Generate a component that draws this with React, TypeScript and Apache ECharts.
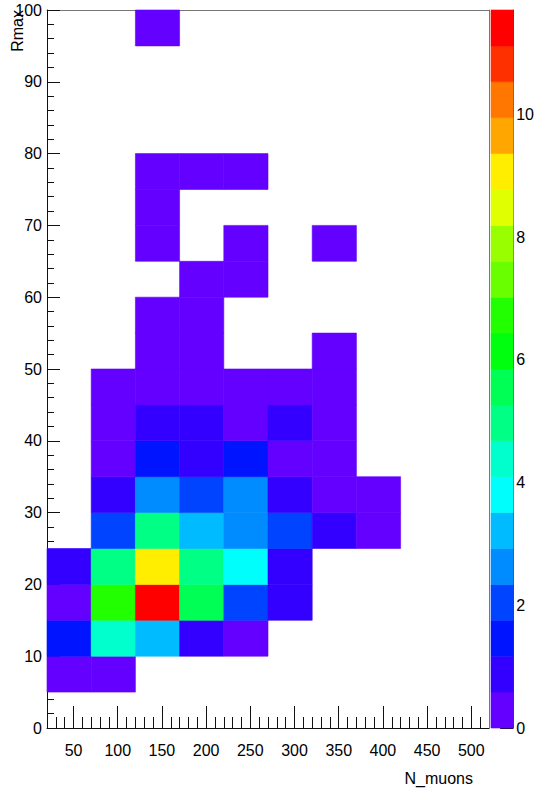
import { useEffect, useRef } from "react";
import * as echarts from "echarts";

// Binning of the 2D histogram (N_muons on x, Rmax on y)
const xMin = 20;
const xMax = 520;
const xBinWidth = 50;
const yMin = 0;
const yMax = 100;
const yBinWidth = 5;

// Bin contents, one array per Rmax row (bottom row first), one entry per N_muons bin
const counts: number[][] = [
  [0, 0, 0, 0, 0, 0, 0, 0, 0, 0], // 0-5
  [0.3, 0.3, 0, 0, 0, 0, 0, 0, 0, 0], // 5-10
  [1.5, 4.4, 3.2, 0.9, 0.3, 0, 0, 0, 0, 0], // 10-15
  [0.3, 6.7, 11.14, 5.5, 2.0, 0.9, 0, 0, 0, 0], // 15-20
  [0.9, 5.0, 9.1, 5.0, 3.8, 0.9, 0, 0, 0, 0], // 20-25
  [0, 2.0, 5.0, 3.2, 2.6, 2.0, 0.9, 0.3, 0, 0], // 25-30
  [0, 0.9, 2.6, 2.0, 2.6, 0.9, 0.3, 0.3, 0, 0], // 30-35
  [0, 0.3, 1.5, 0.9, 1.5, 0.3, 0.3, 0, 0, 0], // 35-40
  [0, 0.3, 0.9, 0.9, 0.3, 0.9, 0.3, 0, 0, 0], // 40-45
  [0, 0.3, 0.3, 0.3, 0.3, 0.3, 0.3, 0, 0, 0], // 45-50
  [0, 0, 0.3, 0.3, 0, 0, 0.3, 0, 0, 0], // 50-55
  [0, 0, 0.3, 0.3, 0, 0, 0, 0, 0, 0], // 55-60
  [0, 0, 0, 0.3, 0.3, 0, 0, 0, 0, 0], // 60-65
  [0, 0, 0.3, 0, 0.3, 0, 0.3, 0, 0, 0], // 65-70
  [0, 0, 0.3, 0, 0, 0, 0, 0, 0, 0], // 70-75
  [0, 0, 0.3, 0.3, 0.3, 0, 0, 0, 0, 0], // 75-80
  [0, 0, 0, 0, 0, 0, 0, 0, 0, 0], // 80-85
  [0, 0, 0, 0, 0, 0, 0, 0, 0, 0], // 85-90
  [0, 0, 0, 0, 0, 0, 0, 0, 0, 0], // 90-95
  [0, 0, 0.3, 0, 0, 0, 0, 0, 0, 0], // 95-100
];

// Tick labels
const xTickLabels = [50, 100, 150, 200, 250, 300, 350, 400, 450, 500];
const zTickLabels = [0, 2, 4, 6, 8, 10];

// Colour scale: 20 contour levels up to the z maximum
const zMax = 11.7;
const nContours = 20;
const palette = [
  "#6300ff", "#3300ff", "#0014ff", "#0044ff", "#008bff",
  "#00bbff", "#00fffc", "#00ffcc", "#00ff85", "#00ff55",
  "#00ff0e", "#22ff00", "#69ff00", "#99ff00", "#e0ff00",
  "#ffee00", "#ffa700", "#ff7700", "#ff3000", "#ff0000",
];

const FONT = '"Liberation Sans", Arial, Helvetica, sans-serif';

export default function App() {
  const ref = useRef<HTMLDivElement>(null);

  useEffect(() => {
    if (!ref.current) return;
    const chart = echarts.init(ref.current, undefined, { renderer: "svg" });

    const step = zMax / nContours;
    const levels = Array.from({ length: nContours + 1 }, (_, i) => i * step);

    const cells: number[][] = [];
    counts.forEach((row, iy) => {
      row.forEach((v, ix) => {
        if (v > 0) cells.push([xMin + ix * xBinWidth, yMin + iy * yBinWidth, v]);
      });
    });

    const bands = palette.map((_, k) => [levels[k], levels[k + 1], (levels[k] + levels[k + 1]) / 2]);

    const pieces = palette.map((c, k) =>
      k === nContours - 1
        ? { gte: levels[k], lte: levels[k + 1] + 1e-6, color: c }
        : { gte: levels[k], lt: levels[k + 1], color: c }
    );

    const xMinorTicks: number[] = [];
    for (let v = 30; v < xMax; v += 10) if (v % 50 !== 0) xMinorTicks.push(v);

    chart.setOption({
      animation: false,
      backgroundColor: "#ffffff",
      textStyle: { fontFamily: FONT },
      grid: [
        { left: 47, top: 10, width: 442, height: 718 },
        { left: 491, top: 10, width: 25, height: 718 },
      ],
      xAxis: [
        {
          gridIndex: 0,
          type: "value",
          position: "bottom",
          min: xMin,
          max: xMax,
          axisLine: { show: true, onZero: false, lineStyle: { color: "#111", width: 1 } },
          axisTick: { show: true, inside: true, length: 22, customValues: xTickLabels, lineStyle: { color: "#111" } },
          axisLabel: { show: true, customValues: xTickLabels, margin: 14, fontSize: 16, color: "#000", fontFamily: FONT },
          splitLine: { show: false },
        },
        {
          gridIndex: 0,
          type: "value",
          position: "bottom",
          min: xMin,
          max: xMax,
          axisLine: { show: false },
          axisTick: { show: true, inside: true, length: 11, customValues: xMinorTicks, lineStyle: { color: "#111" } },
          axisLabel: { show: false },
          splitLine: { show: false },
        },
        {
          gridIndex: 0,
          type: "value",
          position: "top",
          min: xMin,
          max: xMax,
          axisLine: { show: true, onZero: false, lineStyle: { color: "#777" } },
          axisTick: { show: false },
          axisLabel: { show: false },
          splitLine: { show: false },
        },
        {
          gridIndex: 1,
          type: "value",
          min: 0,
          max: 1,
          show: false,
        },
      ],
      yAxis: [
        {
          gridIndex: 0,
          type: "value",
          position: "left",
          min: yMin,
          max: yMax,
          interval: 10,
          axisLine: { show: true, onZero: false, lineStyle: { color: "#111" } },
          axisTick: { show: true, inside: true, length: 13, lineStyle: { color: "#111" } },
          minorTick: { show: true, splitNumber: 5, length: 7, lineStyle: { color: "#111" } },
          axisLabel: { show: true, margin: 5, fontSize: 16, color: "#000", fontFamily: FONT },
          splitLine: { show: false },
          minorSplitLine: { show: false },
        },
        {
          gridIndex: 0,
          type: "value",
          position: "right",
          min: yMin,
          max: yMax,
          axisLine: { show: true, onZero: false, lineStyle: { color: "#777" } },
          axisTick: { show: false },
          axisLabel: { show: false },
          splitLine: { show: false },
        },
        {
          gridIndex: 1,
          type: "value",
          position: "right",
          min: 0,
          max: zMax,
          axisLine: { show: true, onZero: false, lineStyle: { color: "#444" } },
          axisTick: { show: true, inside: true, length: 13, customValues: zTickLabels, lineStyle: { color: "#111" } },
          axisLabel: { show: true, customValues: zTickLabels, margin: 3, fontSize: 16, color: "#000", fontFamily: FONT },
          splitLine: { show: false },
        },
      ],
      visualMap: {
        type: "piecewise",
        show: false,
        dimension: 2,
        seriesIndex: [0, 1],
        pieces,
      },
      series: [
        {
          type: "custom",
          xAxisIndex: 0,
          yAxisIndex: 0,
          encode: { x: 0, y: 1 },
          data: cells,
          renderItem: (_params: any, api: any) => {
            const x = api.value(0);
            const y = api.value(1);
            const p0 = api.coord([x, y + yBinWidth]);
            const p1 = api.coord([x + xBinWidth, y]);
            const c = api.visual("color");
            return {
              type: "rect",
              shape: { x: p0[0], y: p0[1], width: p1[0] - p0[0], height: p1[1] - p0[1] },
              style: { fill: c, stroke: c, lineWidth: 0.6 },
            };
          },
        },
        {
          type: "custom",
          xAxisIndex: 3,
          yAxisIndex: 2,
          encode: { y: [0, 1] },
          data: bands,
          renderItem: (_params: any, api: any) => {
            const lo = api.value(0);
            const hi = api.value(1);
            const p0 = api.coord([0, hi]);
            const p1 = api.coord([1, lo]);
            const c = api.visual("color");
            return {
              type: "rect",
              shape: { x: p0[0], y: p0[1], width: p1[0] - p0[0], height: p1[1] - p0[1] },
              style: { fill: c, stroke: c, lineWidth: 0.6 },
            };
          },
        },
      ],
      graphic: [
        {
          type: "text",
          x: 17.5,
          y: 10,
          rotation: Math.PI / 2,
          z: 100,
          style: { text: "Rmax", fontSize: 16, fontFamily: FONT, fill: "#000", align: "right", verticalAlign: "middle" },
        },
        {
          type: "text",
          x: 473,
          y: 778,
          z: 100,
          style: { text: "N_muons", fontSize: 16, fontFamily: FONT, fill: "#000", align: "right", verticalAlign: "middle" },
        },
      ],
    });

    return () => chart.dispose();
  }, []);

  return (
    <div
      ref={ref}
      style={{ position: "fixed", left: 0, top: 0, width: 537, height: 791, background: "#fff" }}
    />
  );
}
